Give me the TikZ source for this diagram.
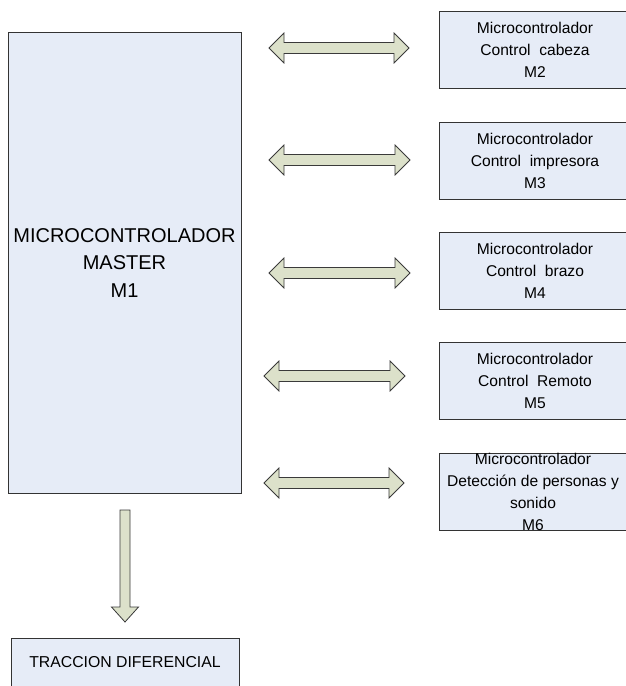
\documentclass[tikz,border=0pt]{standalone}
\usepackage{fontspec}
\setmainfont{Liberation Sans}
\usetikzlibrary{calc}
\definecolor{boxfill}{HTML}{E6ECF7}
\definecolor{arrfill}{HTML}{DCE1CA}
\definecolor{boxline}{HTML}{333333}
\definecolor{arrline}{HTML}{3A3A3A}
\tikzset{
  box/.style={draw=boxline, fill=boxfill, line width=0.9pt, rectangle, inner sep=0pt},
  smallbox/.style={box, minimum width=196pt, minimum height=77pt},
  bigtext/.style={align=center, inner sep=0pt, font=\fontsize{20}{27.5}\selectfont},
  smalltext/.style={align=center, inner sep=0pt, font=\fontsize{15.6}{22}\selectfont},
  blockarrow/.style={draw=arrline, fill=arrfill, line width=0.8pt, line join=miter},
}
\newcommand{\dblarrow}[2]{%
  \draw[blockarrow] (#1) -- ($(#1)+(15,-15)$) -- ($(#1)+(15,-5.5)$) -- ($(#2)+(-15,-5.5)$) -- ($(#2)+(-15,-15)$) -- (#2) -- ($(#2)+(-15,15)$) -- ($(#2)+(-15,5.5)$) -- ($(#1)+(15,5.5)$) -- ($(#1)+(15,15)$) -- cycle;}
\begin{document}
\begin{tikzpicture}[x=1pt,y=-1pt]
\useasboundingbox (0,0) rectangle (626,686);
\clip (0,0) rectangle (626,686);
\fill[white] (0,0) rectangle (626,686);
% master
\node[box, minimum width=233pt, minimum height=461pt] (m1) at (124.5,262.5) {};
\node[bigtext] (m1t) at (124.5,263) {MICROCONTROLADOR\\MASTER\\M1};
% slaves
\node[smallbox] (m2) at (537,50) {};
\node[smalltext] (m2t) at (535,50) {Microcontrolador\\Control\ \ cabeza\\M2};
\node[smallbox] (m3) at (537,161) {};
\node[smalltext] (m3t) at (535,161) {Microcontrolador\\Control\ \ impresora\\M3};
\node[smallbox] (m4) at (537,270.5) {};
\node[smalltext] (m4t) at (535,270.5) {Microcontrolador\\Control\ \ brazo\\M4};
\node[smallbox] (m5) at (537,380.5) {};
\node[smalltext] (m5t) at (535,380.5) {Microcontrolador\\Control\ \ Remoto\\M5};
\node[smallbox] (m6) at (537,491.5) {};
\node[smalltext] (m6t) at (533,491.5) {Microcontrolador\\Detección de personas y\\sonido\\M6};
% traction
\node[box, minimum width=228pt, minimum height=70pt] (tr) at (125,673) {};
\node[smalltext, font=\fontsize{15.8}{20}\selectfont] (trt) at (125,662) {TRACCION DIFERENCIAL};
% double arrows
\coordinate (a2l) at (269,48);  \coordinate (a2r) at (409,48);
\coordinate (a3l) at (269,160); \coordinate (a3r) at (410,160);
\coordinate (a4l) at (269,273); \coordinate (a4r) at (410,273);
\coordinate (a5l) at (264,376); \coordinate (a5r) at (405,376);
\coordinate (a6l) at (264,483); \coordinate (a6r) at (404,483);
\dblarrow{a2l}{a2r}
\dblarrow{a3l}{a3r}
\dblarrow{a4l}{a4r}
\dblarrow{a5l}{a5r}
\dblarrow{a6l}{a6r}
% down arrow
\coordinate (dtop) at (125,510);
\coordinate (dtip) at (125,622);
\draw[blockarrow] ($(dtop)+(-5,0)$) -- ($(dtop)+(5,0)$) -- ($(dtip)+(5,-15)$) -- ($(dtip)+(13.5,-15)$) -- (dtip) -- ($(dtip)+(-13.5,-15)$) -- ($(dtip)+(-5,-15)$) -- cycle;
\end{tikzpicture}
\end{document}
